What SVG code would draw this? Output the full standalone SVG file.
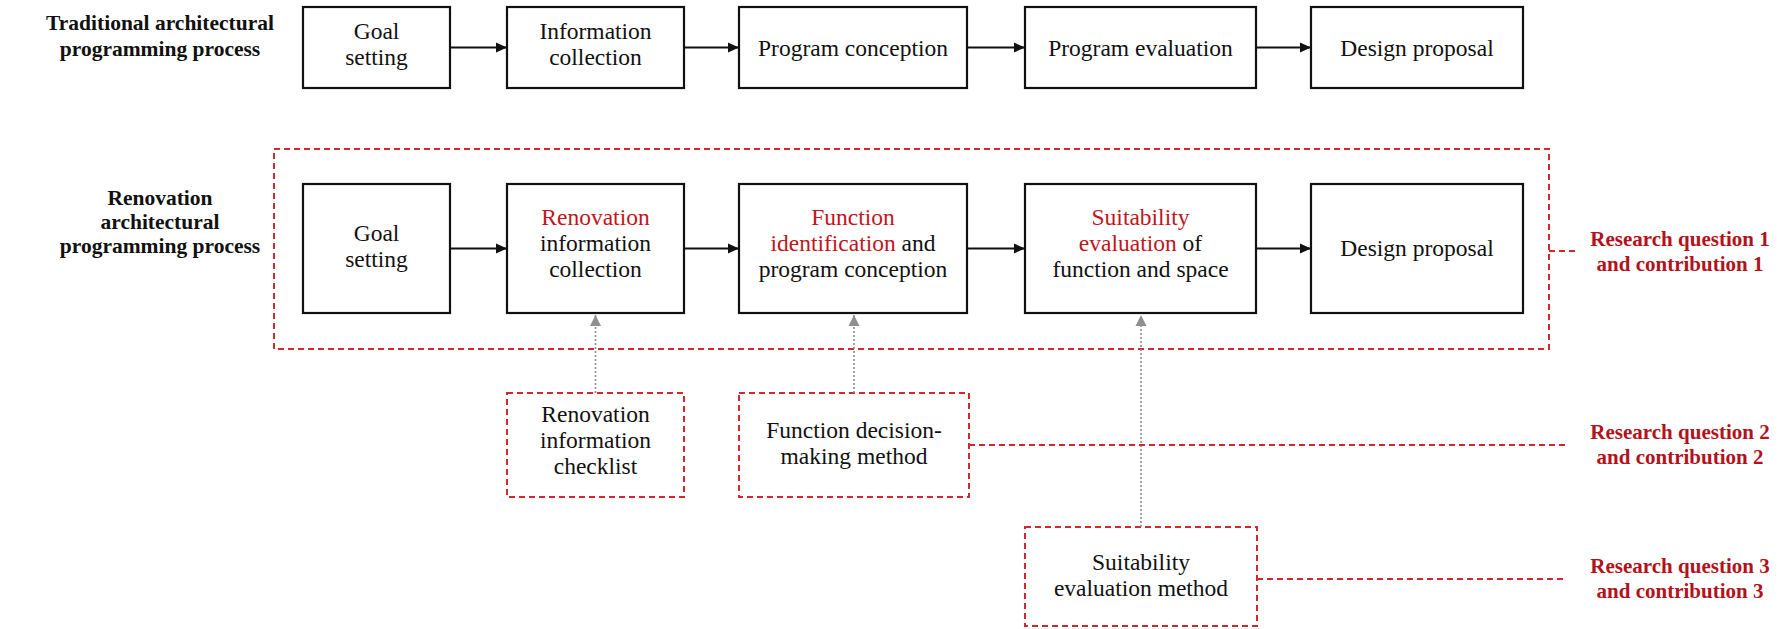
<svg xmlns="http://www.w3.org/2000/svg" width="1787" height="629" viewBox="0 0 1787 629">
  <style>
    .box { fill: #ffffff; stroke: #111111; stroke-width: 2.2; }
    .rbox { fill: #ffffff; stroke: #d0282d; stroke-width: 2; stroke-dasharray: 6 4; }
    .frame { fill: none; stroke: #d0282d; stroke-width: 2; stroke-dasharray: 6 4; }
    .rdash { fill: none; stroke: #d0282d; stroke-width: 2; stroke-dasharray: 6 4; }
    .flow { fill: none; stroke: #111111; stroke-width: 2; marker-end: url(#arrowBlack); }
    .feed { fill: none; stroke: #8a8a8a; stroke-width: 1.6; stroke-dasharray: 2 2; marker-end: url(#arrowGray); }
    .t { font-family: "Liberation Serif", "Times New Roman", serif; font-size: 23.5px; fill: #111111; text-anchor: middle; }
    .hl { fill: #c0161c; }
    .lbl { font-family: "Liberation Serif", "Times New Roman", serif; font-size: 21.5px; font-weight: bold; fill: #111111; text-anchor: middle; }
    .rq { font-family: "Liberation Serif", "Times New Roman", serif; font-size: 21px; font-weight: bold; fill: #b3121b; text-anchor: middle; }
  </style>
  <defs>
    <marker id="arrowBlack" markerUnits="userSpaceOnUse" markerWidth="12" markerHeight="12" refX="11" refY="6" orient="auto">
      <path d="M0,1 L11,6 L0,11 Z" fill="#111111"/>
    </marker>
    <marker id="arrowGray" markerUnits="userSpaceOnUse" markerWidth="12" markerHeight="12" refX="11" refY="6" orient="auto">
      <path d="M0,0.5 L11,6 L0,11.5 Z" fill="#8f8f8f"/>
    </marker>
  </defs>

  <rect width="1787" height="629" fill="#ffffff"/>

  <!-- Row labels -->
  <g id="label-traditional">
    <text class="lbl" x="160" y="30">Traditional architectural</text>
    <text class="lbl" x="160" y="56">programming process</text>
  </g>
  <g id="label-renovation">
    <text class="lbl" x="160" y="205">Renovation</text>
    <text class="lbl" x="160" y="229">architectural</text>
    <text class="lbl" x="160" y="253">programming process</text>
  </g>

  <!-- Scope frame around the renovation process -->
  <g id="renovation-frame">
    <rect class="frame" x="274" y="149" width="1275" height="200"/>
  </g>

  <!-- Traditional process -->
  <g id="t-goal">
    <rect class="box" x="303" y="7" width="147" height="81"/>
    <text class="t" x="376.5" y="39">Goal</text>
    <text class="t" x="376.5" y="65">setting</text>
  </g>
  <g id="t-info">
    <rect class="box" x="507" y="7" width="177" height="81"/>
    <text class="t" x="595.5" y="39">Information</text>
    <text class="t" x="595.5" y="65">collection</text>
  </g>
  <g id="t-conception">
    <rect class="box" x="739" y="7" width="228" height="81"/>
    <text class="t" x="853" y="55.5">Program conception</text>
  </g>
  <g id="t-evaluation">
    <rect class="box" x="1025" y="7" width="231" height="81"/>
    <text class="t" x="1140.5" y="55.5">Program evaluation</text>
  </g>
  <g id="t-design">
    <rect class="box" x="1311" y="7" width="212" height="81"/>
    <text class="t" x="1417" y="55.5">Design proposal</text>
  </g>

  <!-- Renovation process -->
  <g id="r-goal">
    <rect class="box" x="303" y="184" width="147" height="129"/>
    <text class="t" x="376.5" y="240.5">Goal</text>
    <text class="t" x="376.5" y="266.5">setting</text>
  </g>
  <g id="r-info">
    <rect class="box" x="507" y="184" width="177" height="129"/>
    <text class="t hl" x="595.5" y="225">Renovation</text>
    <text class="t" x="595.5" y="251">information</text>
    <text class="t" x="595.5" y="277">collection</text>
  </g>
  <g id="r-function">
    <rect class="box" x="739" y="184" width="228" height="129"/>
    <text class="t hl" x="853" y="225">Function</text>
    <text class="t" x="853" y="251"><tspan class="hl">identification</tspan> and</text>
    <text class="t" x="853" y="277">program conception</text>
  </g>
  <g id="r-suitability">
    <rect class="box" x="1025" y="184" width="231" height="129"/>
    <text class="t hl" x="1140.5" y="225">Suitability</text>
    <text class="t" x="1140.5" y="251"><tspan class="hl">evaluation</tspan> of</text>
    <text class="t" x="1140.5" y="277">function and space</text>
  </g>
  <g id="r-design">
    <rect class="box" x="1311" y="184" width="212" height="129"/>
    <text class="t" x="1417" y="256">Design proposal</text>
  </g>

  <!-- Supporting methods -->
  <g id="m-checklist">
    <rect class="rbox" x="507" y="393" width="177" height="104"/>
    <text class="t" x="595.5" y="422">Renovation</text>
    <text class="t" x="595.5" y="448">information</text>
    <text class="t" x="595.5" y="474">checklist</text>
  </g>
  <g id="m-decision">
    <rect class="rbox" x="739" y="393" width="230" height="104"/>
    <text class="t" x="854" y="437.5">Function decision-</text>
    <text class="t" x="854" y="463.5">making method</text>
  </g>
  <g id="m-suitability">
    <rect class="rbox" x="1025" y="527" width="232" height="99"/>
    <text class="t" x="1141" y="569.5">Suitability</text>
    <text class="t" x="1141" y="595.5">evaluation method</text>
  </g>

  <!-- Research questions -->
  <g id="rq1">
    <text class="rq" x="1680" y="246">Research question 1</text>
    <text class="rq" x="1680" y="271">and contribution 1</text>
  </g>
  <g id="rq2">
    <text class="rq" x="1680" y="439">Research question 2</text>
    <text class="rq" x="1680" y="464">and contribution 2</text>
  </g>
  <g id="rq3">
    <text class="rq" x="1680" y="573">Research question 3</text>
    <text class="rq" x="1680" y="598">and contribution 3</text>
  </g>

  <!-- Connectors -->
  <g id="connectors">
    <!-- traditional sequence -->
    <line class="flow" x1="450" y1="47.5" x2="507" y2="47.5"/>
    <line class="flow" x1="684" y1="47.5" x2="739" y2="47.5"/>
    <line class="flow" x1="967" y1="47.5" x2="1025" y2="47.5"/>
    <line class="flow" x1="1256" y1="47.5" x2="1311" y2="47.5"/>
    <!-- renovation sequence -->
    <line class="flow" x1="450" y1="248.5" x2="507" y2="248.5"/>
    <line class="flow" x1="684" y1="248.5" x2="739" y2="248.5"/>
    <line class="flow" x1="967" y1="248.5" x2="1025" y2="248.5"/>
    <line class="flow" x1="1256" y1="248.5" x2="1311" y2="248.5"/>
    <!-- methods feeding the process steps -->
    <line class="feed" x1="595.5" y1="393" x2="595.5" y2="315"/>
    <line class="feed" x1="854" y1="393" x2="854" y2="315"/>
    <line class="feed" x1="1141" y1="527" x2="1141" y2="315"/>
    <!-- links to research questions -->
    <line class="rdash" x1="1549" y1="251" x2="1575" y2="251"/>
    <line class="rdash" x1="969" y1="445" x2="1567" y2="445"/>
    <line class="rdash" x1="1257" y1="579" x2="1567" y2="579"/>
  </g>
</svg>
